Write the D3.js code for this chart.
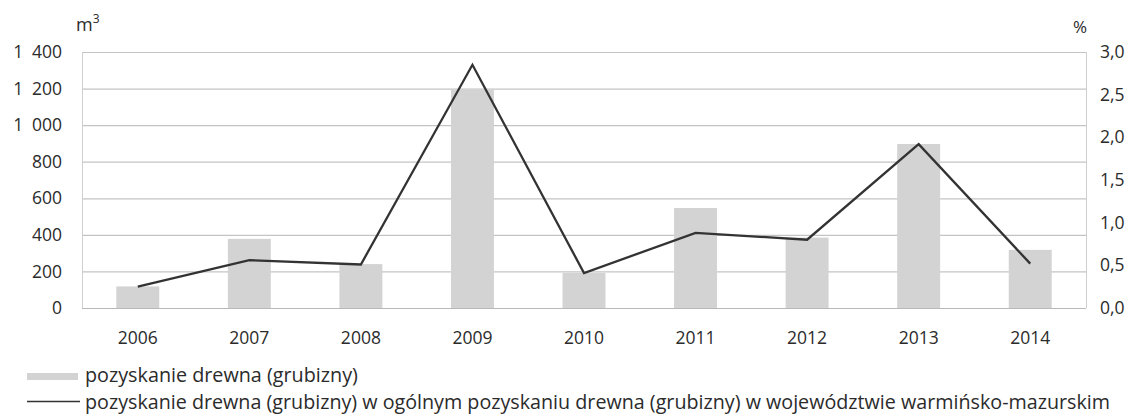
<!DOCTYPE html>
<html lang="pl">
<head>
<meta charset="UTF-8">
<script src="https://cdn.jsdelivr.net/npm/d3@7"></script>
<style>
  body { margin: 0; background: #fff; }
  svg { display: block; font-family: "Open Sans", Lato, sans-serif; }
</style>
</head>
<body>
<div id="container"></div>
<script>
// dane
var years = ["2006", "2007", "2008", "2009", "2010", "2011", "2012", "2013", "2014"];
var volume = [118, 378, 240, 1198, 192, 547, 385, 897, 318];      // m3
var share = [0.25, 0.56, 0.51, 2.85, 0.41, 0.88, 0.80, 1.92, 0.52]; // %
var leftTicks = [0, 200, 400, 600, 800, 1000, 1200, 1400];
var rightTicks = [0, 0.5, 1.0, 1.5, 2.0, 2.5, 3.0];
var legendLabels = [
  "pozyskanie drewna (grubizny)",
  "pozyskanie drewna (grubizny) w ogólnym pozyskaniu drewna (grubizny)  w województwie warmińsko-mazurskim"
];

var width = 1137, height = 419;
var margin = {left: 82, right: 51, top: 52, bottom: 111};
var ink = "#2b2b2b";

var svg = d3.select("#container").append("svg")
  .attr("width", width).attr("height", height);

var x = d3.scaleBand().domain(years)
  .range([margin.left, width - margin.right]).paddingInner(0.615).paddingOuter(0.3075);
var yL = d3.scaleLinear().domain([0, 1400]).range([height - margin.bottom, margin.top]);
var yR = d3.scaleLinear().domain([0, 3]).range([height - margin.bottom, margin.top]);

var fmtL = function(d) { return d >= 1000 ? Math.floor(d / 1000) + "\u2002" + d3.format("03")(d % 1000) : d; };
var fmtR = function(d) { return d3.format(".1f")(d).replace(".", ","); };

// siatka
svg.append("g").selectAll("line").data(leftTicks).join("line")
  .attr("x1", margin.left).attr("x2", width - margin.right)
  .attr("y1", d => yL(d) + 0.5).attr("y2", d => yL(d) + 0.5)
  .attr("stroke", d => d === 0 ? "#b8b8b8" : "#c4c4c4").attr("stroke-width", 1.2);

// ramka boczna
svg.append("line").attr("x1", margin.left + 0.5).attr("x2", margin.left + 0.5)
  .attr("y1", yL(1400)).attr("y2", yL(0)).attr("stroke", "#cfcfcf");
svg.append("line").attr("x1", width - margin.right + 0.5).attr("x2", width - margin.right + 0.5)
  .attr("y1", yL(1400)).attr("y2", yL(0)).attr("stroke", "#cfcfcf");

// slupki
svg.append("g").selectAll("rect").data(volume).join("rect")
  .attr("x", (d, i) => x(years[i]))
  .attr("width", x.bandwidth())
  .attr("y", d => yL(d))
  .attr("height", d => yL(0) - yL(d))
  .attr("fill", "#d3d3d3");

// linia
var line = d3.line()
  .x((d, i) => x(years[i]) + x.bandwidth() / 2)
  .y(d => yR(d));
svg.append("path").datum(share)
  .attr("d", line)
  .attr("fill", "none").attr("stroke", "#333").attr("stroke-width", 2.3)
  .attr("stroke-linejoin", "miter");

// osie
var axL = svg.append("g").attr("transform", `translate(${margin.left - 20},0)`)
  .call(d3.axisLeft(yL).tickValues(leftTicks).tickFormat(fmtL).tickSize(0).tickPadding(0));
var axR = svg.append("g").attr("transform", `translate(${width - margin.right + 14},0)`)
  .call(d3.axisRight(yR).tickValues(rightTicks).tickFormat(fmtR).tickSize(0).tickPadding(0));
var axB = svg.append("g").attr("transform", `translate(0,${yL(0) + 24})`)
  .call(d3.axisBottom(x).tickSize(0).tickPadding(0));
[axL, axR, axB].forEach(function(a) {
  a.attr("font-family", null).attr("font-size", null);
  a.select(".domain").remove();
  a.selectAll("text").style("font-size", "17.5px").attr("fill", ink);
});
axB.selectAll("text").attr("dy", "0.71em");

// jednostki
svg.append("text").attr("x", 76).attr("y", 31).style("font-size", "18px").attr("fill", ink)
  .text("m").append("tspan").attr("dy", -8).style("font-size", "12px").text("3");
svg.append("text").attr("x", 1073).attr("y", 33).style("font-size", "17px").attr("fill", ink).text("%");

// legenda
var lg = svg.append("g").attr("fill", ink).style("white-space", "pre");
lg.append("rect").attr("x", 27).attr("y", 373).attr("width", 51).attr("height", 7).attr("fill", "#d3d3d3");
var t1 = lg.append("text").attr("x", 85).attr("y", 382).style("font-size", "18px").text(legendLabels[0]);
// dopasowanie rozmiaru do szerokosci z oryginalu
var w1 = t1.node().getComputedTextLength();
t1.style("font-size", (18 * 273 / w1) + "px");
lg.append("line").attr("x1", 27).attr("x2", 80).attr("y1", 401.5).attr("y2", 401.5)
  .attr("stroke", "#333").attr("stroke-width", 1.5);
lg.append("text").attr("x", 85).attr("y", 409).style("font-size", (18 * 273 / w1) + "px")
  .text(legendLabels[1])
  .attr("textLength", 1025).attr("lengthAdjust", "spacingAndGlyphs");
</script>
</body>
</html>
